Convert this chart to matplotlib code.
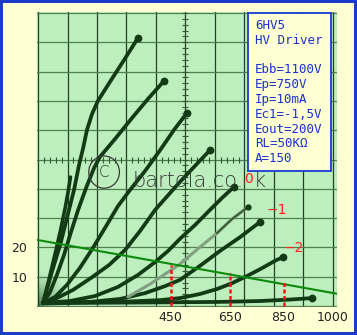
import matplotlib
matplotlib.use('Agg')
import matplotlib.pyplot as plt
from matplotlib.patches import Rectangle, Ellipse
import numpy as np

# plate curves (V, mA)
curve_v = [
    [17, 47, 75, 98, 122, 139, 153, 166, 183, 203, 244, 292, 339],
    [17, 41, 64, 88, 112, 136, 163, 190, 210, 261, 319, 373, 427],
    [17, 58, 98, 142, 186, 231, 271, 312, 363, 414, 461, 505],
    [17, 58, 119, 180, 241, 295, 346, 397, 478, 532, 583],
    [17, 108, 193, 271, 339, 397, 441, 481, 532, 583, 624, 664],
    [17, 176, 278, 363, 431, 481, 549, 617, 685, 753],
    [17, 278, 414, 481, 549, 607, 658, 708, 759, 803, 831],
    [17, 380, 617, 753, 854, 929],
]
curve_i = [
    [1.0, 11.6, 20.8, 30.0, 39.6, 48.1, 53.9, 60.1, 65.5, 70.0, 76.5, 84.0, 91.5],
    [1.0, 4.8, 10.6, 17.4, 25.3, 32.8, 40.3, 47.1, 50.9, 57.0, 64.2, 70.7, 76.8],
    [1.0, 3.1, 7.2, 13.0, 19.8, 27.3, 34.1, 39.6, 46.1, 53.2, 60.1, 65.9],
    [1.0, 2.4, 5.5, 9.6, 14.0, 19.1, 25.6, 32.8, 42.0, 47.8, 53.2],
    [1.0, 1.7, 3.4, 6.5, 10.6, 15.0, 18.8, 22.9, 27.6, 32.8, 36.9, 40.6],
    [1.0, 1.4, 2.4, 4.4, 6.8, 8.9, 13.7, 18.8, 23.5, 28.7],
    [1.0, 1.4, 2.0, 2.7, 4.1, 5.8, 7.8, 10.2, 12.9, 15.4, 16.7],
    [1.0, 1.2, 1.4, 1.7, 2.2, 2.7],
]
# short steep trace merging with the top one
short_v = [17, 41, 61, 78, 92, 102, 110]
short_i = [1.0, 10.6, 19.1, 26.6, 33.4, 38.9, 44.0]
# faint trace
faint_v = [305, 380, 441, 481, 549, 607, 658, 712]
faint_i = [3.1, 7.5, 11.6, 14.3, 20.1, 24.9, 29.7, 33.8]

load_v = [0, 1013]
load_i = [22.5, 4.2]

dash_v = [450, 650, 835]
dash_top = [14.0, 11.3, 8.2]

xtick_pos = [450, 650, 830, 1000]
xtick_lab = ['450', '650', '850', '1000']
ytick_pos = [10, 20]
ytick_lab = ['10', '20']

info = ['6HV5', 'HV Driver', '', 'Ebb=1100V', 'Ep=750V', 'Ip=10mA',
        'Ec1=-1,5V', 'Eout=200V', 'RL=50KΩ', 'A=150']

W, H = 357, 335
fig = plt.figure(figsize=(W / 100, H / 100), dpi=100)
fig.patch.set_facecolor('#FFFFD4')

ax = fig.add_axes([37 / W, (H - 307) / H, 300 / W, 295 / H])
ax.set_facecolor('#BDEEBD')
ax.set_xlim(-3.4, 1013.6)
ax.set_ylim(-0.34, 100.34)
for s in ax.spines.values():
    s.set_visible(False)

# graticule
for gx in range(0, 1001, 100):
    ax.axvline(gx, color='#233f23', lw=0.9, zorder=1)
for gy in range(0, 101, 10):
    ax.axhline(gy, color='#4f7f4f', lw=0.9, zorder=1)
ax.plot(np.arange(0, 1001, 20), np.full(51, 50), ls='none', marker='|',
        ms=4.5, mew=0.8, color='#2f5a2f', zorder=1)
ax.plot(np.full(51, 500), np.arange(0, 101, 2), ls='none', marker='_',
        ms=4.5, mew=0.8, color='#2f5a2f', zorder=1)

# dark smudge near origin
yy, xx = np.mgrid[0:1:40j, 0:1:40j]
smudge = np.zeros((40, 40, 4))
smudge[..., 0] = 0.08
smudge[..., 1] = 0.25
smudge[..., 2] = 0.08
smudge[..., 3] = 0.7 * np.clip(1 - np.hypot(xx, yy), 0, 1) ** 1.5
ax.imshow(smudge, extent=[0, 110, 0, 12], origin='lower', aspect='auto',
          zorder=2, interpolation='bilinear')

cc = '#113a15'
ax.plot(short_v, short_i, color=cc, lw=2.6, solid_capstyle='round', zorder=3)
for v, i in zip(curve_v, curve_i):
    ax.plot(v, i, color=cc, lw=2.7, solid_capstyle='round', zorder=3)
    ax.plot(v[-1], i[-1], 'o', color=cc, ms=4.6, zorder=3)
ax.plot(faint_v, faint_i, color='#829f82', lw=2.2, solid_capstyle='round', zorder=3)
ax.plot(faint_v[-3:], faint_i[-3:], color='#3a5e3a', lw=1.5, zorder=3)
ax.plot(faint_v[-1], faint_i[-1], 'o', color=cc, ms=3.5, zorder=3)

ax.plot(load_v, load_i, color='#0c8a0c', lw=1.5, zorder=4)
for v, t in zip(dash_v, dash_top):
    ax.plot([v, v], [0, t], color='#ff1010', lw=1.8, ls=(0, (1.6, 1.0)), zorder=4)

# watermark (the red "0" sits where the "u" was)
ax.add_patch(Ellipse((224, 45.7), 104, 11, fill=False, ec='#3a3a3a', lw=0.9, zorder=4))
ax.text(224, 45.7, 'C', fontsize=11, color='#3a3a3a', ha='center', va='center',
        fontweight='light', zorder=4)
ax.text(322, 40.6, 'bartola.co.', fontsize=15, color='#3a3a3a',
        fontweight='light', va='baseline', zorder=4)
ax.text(733, 40.6, 'k', fontsize=15, color='#3a3a3a',
        fontweight='light', va='baseline', zorder=4)

ax.text(712, 43.3, '0', color='#ff2020', fontsize=10, ha='center', va='center', zorder=5)
ax.text(810, 32.8, '−1', color='#ff2020', fontsize=10, ha='center', va='center', zorder=5)
ax.text(868, 19.8, '−2', color='#ff2020', fontsize=10, ha='center', va='center', zorder=5)

ax.set_xticks(xtick_pos, xtick_lab)
ax.set_yticks(ytick_pos, ytick_lab)
ax.tick_params(length=0, labelsize=9, colors='#222222')
ax.tick_params(axis='x', pad=3)
ax.tick_params(axis='y', pad=7)

# info box
bx = Rectangle((248 / W, (H - 171) / H), 83 / W, 158 / H, transform=fig.transFigure,
               facecolor='#FFFFD4', edgecolor='#1a3ad0', lw=1.3, zorder=5)
fig.add_artist(bx)
for k, line in enumerate(info):
    fig.text(255 / W, (H - (25.5 + k * 14.8)) / H, line, family='DejaVu Sans Mono',
             fontsize=9, color='#1a30d0', va='center', zorder=6)

# outer frame
fig.add_artist(Rectangle((0, 0), 1, 1, transform=fig.transFigure, fill=False,
                         edgecolor='#1a3cc8', lw=4.3, zorder=7))

plt.savefig('out.png', dpi=100, facecolor=fig.get_facecolor())
